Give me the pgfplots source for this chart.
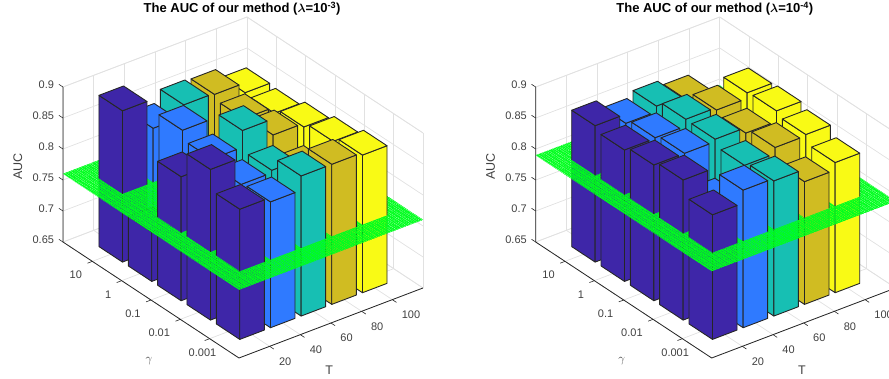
\documentclass[border=0pt]{standalone}
\usepackage{amsmath}
\usepackage{fontspec}
\setmainfont{Liberation Sans}
\usepackage{pgfplots}
\pgfplotsset{compat=1.18}
\usetikzlibrary{patterns.meta}

\definecolor{cA}{RGB}{62,38,168}
\definecolor{cB}{RGB}{47,122,255}
\definecolor{cC}{RGB}{23,191,179}
\definecolor{cD}{RGB}{208,188,34}
\definecolor{cE}{RGB}{249,250,21}
\definecolor{edgecol}{RGB}{38,38,38}
\definecolor{txtcol}{RGB}{64,64,64}
\definecolor{wallcol}{RGB}{225,225,225}
\definecolor{meshgreen}{RGB}{0,255,30}

\pgfplotsset{
  panel/.style={
    x={(30.67pt,11.67pt)}, y={(-29.33pt,19.33pt)}, z={(0pt,620pt)},
    anchor=south west,
    xmin=0, xmax=6, ymin=0, ymax=6, zmin=0.65, zmax=0.9,
    clip=false,
    xtick={1,2,3,4,5}, xticklabels={20,40,60,80,100},
    ytick={1,2,3,4,5}, yticklabels={0.001\kern-17pt,0.01,0.1,1,10},
    ztick={0.65,0.7,0.75,0.8,0.85,0.9}, zticklabels={0.65,0.7,0.75,0.8,0.85,0.9},
    xtick pos=left, ytick pos=left, ztick pos=left,
    grid=major, major grid style={draw=wallcol,line width=0.7pt},
    axis line style={draw=wallcol,line width=0.7pt},
    tick style={draw=none},
    tick align=outside, major tick length=4.5pt,
    tick label style={font=\fontsize{11}{13}\selectfont,text=txtcol,inner sep=0pt},
    xticklabel style={anchor=north west,xshift=5.5pt,yshift=-8.5pt},
    yticklabel style={anchor=north east,xshift=-6pt,yshift=-8pt},
    zticklabel style={anchor=east,xshift=-5pt},
    xlabel={T}, ylabel={$\gamma$}, zlabel={AUC},
    every axis x label/.style={at={(axis cs:1.49,-1.52,0.65)},anchor=center,
      font=\fontsize{12.5}{14}\selectfont,text=txtcol,inner sep=0pt},
    every axis y label/.style={at={(axis cs:-1.96,1.02,0.65)},anchor=center,
      font=\fontsize{12.5}{14}\selectfont,text=txtcol,inner sep=0pt},
    every axis z label/.style={at={(axis cs:-1.47,6,0.8)},anchor=center,rotate=90,
      font=\fontsize{12.5}{14}\selectfont,text=txtcol,inner sep=0pt},
    every axis title shift=0pt,
    title style={font=\fontsize{13}{15}\selectfont\bfseries,text=black,inner sep=0pt,
      at={(axis cs:5.84,6,0.916)},anchor=center},
  },
  bface/.style={draw=edgecol,line width=0.9pt,line join=round,no markers,forget plot},
  tickline/.style={draw=edgecol,line width=0.6pt,no markers,forget plot},
}

% #1 T index, #2 gamma index, #3 height, #4 colour; part under the plane
\newcommand{\lowbar}[4]{%
  \pgfmathsetmacro\bxa{#1-0.4}\pgfmathsetmacro\bxb{#1+0.4}%
  \pgfmathsetmacro\bya{#2-0.4}\pgfmathsetmacro\byb{#2+0.4}%
  \pgfmathsetmacro\bzt{min(#3,\zcut)}%
  \edef\temp{\noexpand\addplot3[bface,fill=#4] coordinates {(\bxa,\bya,\bzt)(\bxa,\bya,0.65)(\bxa,\byb,0.65)(\bxa,\byb,\bzt)};
    \noexpand\addplot3[bface,fill=#4] coordinates {(\bxa,\bya,\bzt)(\bxa,\bya,0.65)(\bxb,\bya,0.65)(\bxb,\bya,\bzt)};}\temp
  \ifdim #3pt<\zcut pt
    \edef\temp{\noexpand\addplot3[bface,fill=#4] coordinates {(\bxa,\bya,\bzt)(\bxb,\bya,\bzt)(\bxb,\byb,\bzt)(\bxa,\byb,\bzt)(\bxa,\bya,\bzt)};}\temp
  \fi}
% part over the plane
\newcommand{\upbar}[4]{%
  \ifdim #3pt>\zcut pt
    \pgfmathsetmacro\bxa{#1-0.4}\pgfmathsetmacro\bxb{#1+0.4}%
    \pgfmathsetmacro\bya{#2-0.4}\pgfmathsetmacro\byb{#2+0.4}%
    \edef\temp{\noexpand\addplot3[bface,fill=#4] coordinates {(\bxa,\bya,\zcut)(\bxa,\bya,#3)(\bxa,\byb,#3)(\bxa,\byb,\zcut)};
      \noexpand\addplot3[bface,fill=#4] coordinates {(\bxa,\bya,\zcut)(\bxa,\bya,#3)(\bxb,\bya,#3)(\bxb,\bya,\zcut)};
      \noexpand\addplot3[bface,fill=#4] coordinates {(\bxa,\bya,#3)(\bxb,\bya,#3)(\bxb,\byb,#3)(\bxa,\byb,#3)(\bxa,\bya,#3)};}\temp
  \fi}
% #1 gamma index, then heights for T=20..100, farthest first
\newcommand{\barline}[6]{\thisbar{5}{#1}{#6}{cE}\thisbar{4}{#1}{#5}{cD}\thisbar{3}{#1}{#4}{cC}\thisbar{2}{#1}{#3}{cB}\thisbar{1}{#1}{#2}{cA}}

\newcommand{\leftbars}{%
  \barline{5}{0.894}{0.847}{0.866}{0.864}{0.848}%
  \barline{4}{0.730}{0.875}{0.790}{0.856}{0.846}%
  \barline{3}{0.850}{0.860}{0.887}{0.861}{0.855}%
  \barline{2}{0.893}{0.850}{0.854}{0.835}{0.863}%
  \barline{1}{0.860}{0.853}{0.876}{0.876}{0.872}}
\newcommand{\rightbars}{%
  \barline{5}{0.870}{0.855}{0.864}{0.855}{0.750}%
  \barline{4}{0.862}{0.863}{0.874}{0.870}{0.879}%
  \barline{3}{0.869}{0.869}{0.873}{0.864}{0.881}%
  \barline{2}{0.876}{0.820}{0.862}{0.872}{0.874}%
  \barline{1}{0.851}{0.872}{0.868}{0.848}{0.860}}

% dark front edges and the tick marks that sit on them
\newcommand{\frontaxes}{%
  \addplot3[draw=edgecol,line width=0.8pt,no markers,forget plot] coordinates {(6,0,0.65)(0,0,0.65)(0,6,0.65)(0,6,0.9)};
  \pgfplotsforeachungrouped \tk in {1,2,3,4,5}{%
    \edef\temp{\noexpand\addplot3[tickline] coordinates {(\tk,0,0.65)(\tk,-0.14,0.65)};
      \noexpand\addplot3[tickline] coordinates {(0,\tk,0.65)(-0.16,\tk,0.65)};}\temp}%
  \pgfplotsforeachungrouped \tk in {0.65,0.7,0.75,0.8,0.85,0.9}{%
    \edef\temp{\noexpand\addplot3[tickline] coordinates {(0,6,\tk)(0,6.14,\tk)};}\temp}}
% the plane is a fine mesh: two sets of green lines, background showing in the holes
\newcommand{\greenplane}{%
  \edef\temp{\noexpand\addplot3[draw=none,pattern={Lines[angle=20.8,distance=1.5pt,line width=0.95pt]},pattern color=meshgreen,forget plot,no markers]
    coordinates {(0,0,\zcut)(6,0,\zcut)(6,6,\zcut)(0,6,\zcut)(0,0,\zcut)};
    \noexpand\addplot3[draw=none,pattern={Lines[angle=146.6,distance=1.5pt,line width=0.95pt]},pattern color=meshgreen,forget plot,no markers]
    coordinates {(0,0,\zcut)(6,0,\zcut)(6,6,\zcut)(0,6,\zcut)(0,0,\zcut)};}\temp}

\begin{document}
\begin{tikzpicture}
\useasboundingbox (0pt,0pt) rectangle (889pt,379pt);

\begin{axis}[panel, at={(63pt,21pt)},
  title={The AUC of our method ($\boldsymbol{\lambda}$=10\textsuperscript{-3})}]
\frontaxes
\def\zcut{0.76}
\let\thisbar\lowbar \leftbars
\greenplane
\let\thisbar\upbar \leftbars
\end{axis}

\begin{axis}[panel, at={(535.7pt,21pt)},
  title={The AUC of our method ($\boldsymbol{\lambda}$=10\textsuperscript{-4})}]
\frontaxes
\def\zcut{0.79}
\let\thisbar\lowbar \rightbars
\greenplane
\let\thisbar\upbar \rightbars
\end{axis}
\end{tikzpicture}
\end{document}
